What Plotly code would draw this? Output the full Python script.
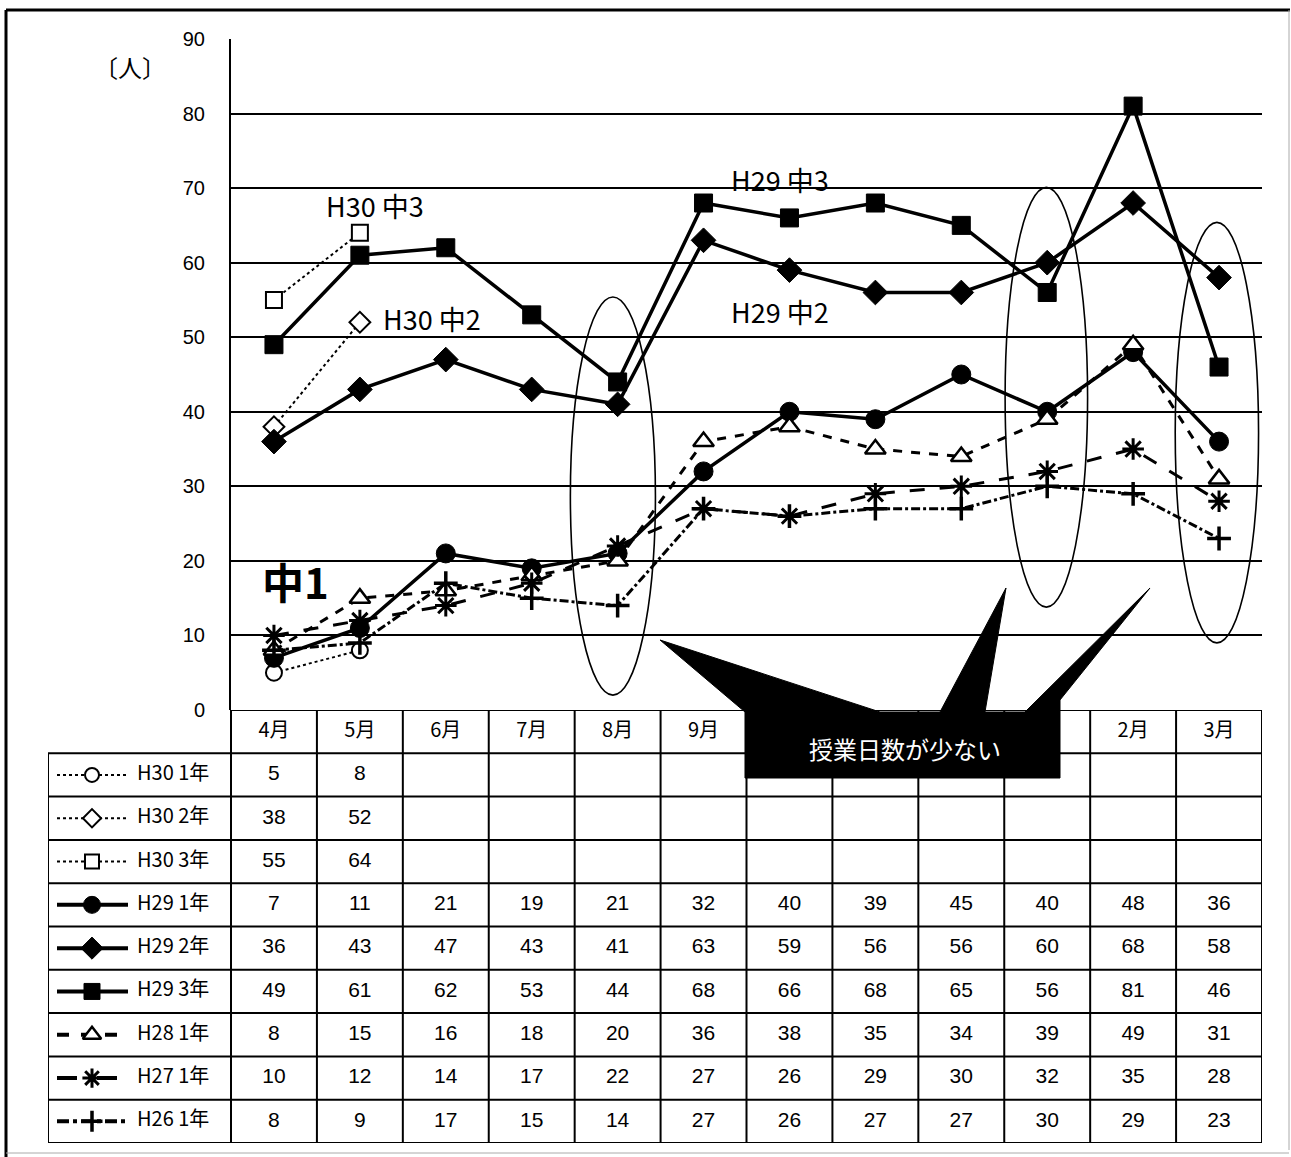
import plotly.graph_objects as go

# ---- data -------------------------------------------------------------
months = ["4月", "5月", "6月", "7月", "8月", "9月", "10月", "11月", "12月", "1月", "2月", "3月"]

h30_1 = [5, 8]
h30_2 = [38, 52]
h30_3 = [55, 64]
h29_1 = [7, 11, 21, 19, 21, 32, 40, 39, 45, 40, 48, 36]
h29_2 = [36, 43, 47, 43, 41, 63, 59, 56, 56, 60, 68, 58]
h29_3 = [49, 61, 62, 53, 44, 68, 66, 68, 65, 56, 81, 46]
h28_1 = [8, 15, 16, 18, 20, 36, 38, 35, 34, 39, 49, 31]
h27_1 = [10, 12, 14, 17, 22, 27, 26, 29, 30, 32, 35, 28]
h26_1 = [8, 9, 17, 15, 14, 27, 26, 27, 27, 30, 29, 23]

series_names = ["H30 1年", "H30 2年", "H30 3年", "H29 1年", "H29 2年",
                "H29 3年", "H28 1年", "H27 1年", "H26 1年"]
series_values = [h30_1, h30_2, h30_3, h29_1, h29_2, h29_3, h28_1, h27_1, h26_1]

# ---- styling ----------------------------------------------------------
W, H = 1291, 1157
FONT = "Liberation Sans, Arial, sans-serif"
JFONT = "Noto Sans CJK JP, sans-serif"

# hollow markers are drawn with a white fill so the line stops at their edge
styles = [
    dict(dash="dot", width=2, symbol="circle", fill="white", size=16, mlw=2),
    dict(dash="dot", width=2, symbol="diamond", fill="white", size=16, mlw=2),
    dict(dash="dot", width=2, symbol="square", fill="white", size=16, mlw=2),
    dict(dash="solid", width=3.5, symbol="circle", fill="black", size=19, mlw=1),
    dict(dash="solid", width=3.5, symbol="diamond", fill="black", size=19, mlw=1),
    dict(dash="solid", width=3.5, symbol="square", fill="black", size=18, mlw=1),
    dict(dash="dash", width=3, symbol="triangle-up", fill="white", size=18, mlw=2.5),
    dict(dash="longdash", width=3, symbol="asterisk-open", fill="black", size=18, mlw=3),
    dict(dash="dashdot", width=3, symbol="cross-thin-open", fill="black", size=17, mlw=3.5),
]


def px(x):
    return x / W


def py(y):
    return 1 - y / H


# plot area and table bounds (pixels)
PL, PR, PT, PB = 231, 1262, 39, 710
TL, TB = 48, 1143
unit = (PR - PL) / 12.0
leg_left = -0.5 - (PL - TL) / unit

fig = go.Figure()

# ---- lines ------------------------------------------------------------
for name, vals, st in zip(series_names, series_values, styles):
    fig.add_trace(go.Scatter(
        x=list(range(len(vals))), y=vals, name=name, mode="lines+markers",
        line=dict(color="black", width=st["width"], dash=st["dash"]),
        marker=dict(symbol=st["symbol"], size=st["size"], color=st["fill"],
                    line=dict(color="black", width=st["mlw"])),
        showlegend=False, hoverinfo="skip",
        xaxis="x", yaxis="y",
    ))

# ---- data table -------------------------------------------------------
n_rows = len(series_names)
# header row
fig.add_trace(go.Scatter(
    x=list(range(12)), y=[0] * 12, text=months, mode="text",
    textfont=dict(family=JFONT, size=20, color="black"),
    xaxis="x3", yaxis="y3", showlegend=False, hoverinfo="skip"))
for r, vals in enumerate(series_values, start=1):
    fig.add_trace(go.Scatter(
        x=list(range(len(vals))), y=[r] * len(vals),
        text=[str(v) for v in vals], mode="text",
        textfont=dict(family=FONT, size=21, color="black"),
        xaxis="x3", yaxis="y3", showlegend=False, hoverinfo="skip"))


# legend samples in the left column
def ux(p):
    return (p - PL) / unit - 0.5


for r, (name, st) in enumerate(zip(series_names, styles), start=1):
    lw = 2 if st["dash"] == "dot" else 4
    fig.add_trace(go.Scatter(
        x=[ux(57), ux(92), ux(128)], y=[r, r, r], mode="lines",
        line=dict(color="black", width=lw, dash=st["dash"]),
        xaxis="x3", yaxis="y3", showlegend=False, hoverinfo="skip"))
    fig.add_trace(go.Scatter(
        x=[ux(92)], y=[r], mode="markers",
        marker=dict(symbol=st["symbol"], size=st["size"] - 2, color=st["fill"],
                    line=dict(color="black", width=st["mlw"])),
        xaxis="x3", yaxis="y3", showlegend=False, hoverinfo="skip"))
fig.add_trace(go.Scatter(
    x=[ux(137)] * n_rows, y=list(range(1, n_rows + 1)), text=series_names,
    mode="text", textposition="middle right",
    textfont=dict(family=JFONT, size=20, color="black"),
    xaxis="x3", yaxis="y3", showlegend=False, hoverinfo="skip"))

shapes = []
# table grid
for r in range(n_rows + 2):
    yv = r - 0.5
    x0 = -0.5 if r == 0 else leg_left
    shapes.append(dict(type="line", xref="x3", yref="y3", x0=x0, x1=11.5,
                       y0=yv, y1=yv, line=dict(color="black", width=2)))
for c in range(13):
    xv = c - 0.5
    shapes.append(dict(type="line", xref="x3", yref="y3", x0=xv, x1=xv,
                       y0=-0.5, y1=n_rows + 0.5, line=dict(color="black", width=2)))
shapes.append(dict(type="line", xref="x3", yref="y3", x0=leg_left, x1=leg_left,
                   y0=0.5, y1=n_rows + 0.5, line=dict(color="black", width=2)))

# highlight ellipses around short months
for xc0, xc1, y0, y1 in [(3.45, 4.44, 2, 55.4), (8.51, 9.47, 13.8, 70.1), (10.49, 11.46, 9.0, 65.4)]:
    shapes.append(dict(type="circle", xref="x", yref="y", x0=xc0, x1=xc1, y0=y0, y1=y1,
                       line=dict(color="black", width=1.6), layer="above"))


# callout box with three pointers
def pt(x, y):
    return f"{px(x):.5f},{py(y):.5f}"


callout = ("M" + pt(745, 712) + " L" + pt(660, 640) + " L" + pt(880, 712)
           + " L" + pt(940, 712) + " L" + pt(1006, 588) + " L" + pt(985, 712)
           + " L" + pt(1025, 712) + " L" + pt(1150, 588) + " L" + pt(1060, 700)
           + " L" + pt(1060, 778) + " L" + pt(745, 778) + " Z")
shapes.append(dict(type="path", xref="paper", yref="paper", path=callout,
                   fillcolor="black", line=dict(color="black", width=1), layer="above"))

# outer frame
shapes += [
    dict(type="line", xref="paper", yref="paper", x0=px(6), x1=px(1290), y0=py(10), y1=py(10),
         line=dict(color="black", width=3)),
    dict(type="line", xref="paper", yref="paper", x0=px(6), x1=px(6), y0=py(10), y1=py(1157),
         line=dict(color="black", width=3)),
    dict(type="line", xref="paper", yref="paper", x0=px(1289), x1=px(1289), y0=py(10), y1=py(1150),
         line=dict(color="#aaaaaa", width=1)),
    dict(type="line", xref="paper", yref="paper", x0=px(6), x1=px(1289), y0=py(1153), y1=py(1153),
         line=dict(color="#aaaaaa", width=1)),
]


def label(text, x, y, size, color="black", family=JFONT):
    return dict(text=text, x=px(x), y=py(y), xref="paper", yref="paper", showarrow=False,
                xanchor="center", yanchor="middle",
                font=dict(family=family, size=size, color=color))


annotations = [
    label("〔人〕", 130, 66, 24),
    label("H30 中3", 375, 206, 27),
    label("H30 中2", 432, 318, 27),
    label("H29 中3", 780, 179, 27),
    label("H29 中2", 780, 311, 27),
    label("<b>中1</b>", 295, 580, 42),
    label("授業日数が少ない", 905, 748, 24, color="white"),
]

fig.update_layout(
    width=W, height=H, margin=dict(l=0, r=0, t=0, b=0, autoexpand=False),
    paper_bgcolor="white", plot_bgcolor="white",
    shapes=shapes, annotations=annotations,
    xaxis=dict(domain=[px(PL), px(PR)], range=[-0.5, 11.5], showticklabels=False,
               showgrid=False, zeroline=False, showline=False, fixedrange=True),
    yaxis=dict(domain=[py(PB), py(PT)], range=[0, 90], dtick=10, tick0=0,
               showgrid=True, gridcolor="black", gridwidth=1.5, zeroline=False,
               showline=True, linecolor="black", linewidth=2,
               ticks="", ticklabelstandoff=20,
               tickfont=dict(family=FONT, size=20, color="black"), fixedrange=True),
    xaxis3=dict(domain=[px(TL), px(PR)], range=[leg_left, 11.5], visible=False,
                anchor="y3", fixedrange=True),
    yaxis3=dict(domain=[py(TB), py(PB)], range=[n_rows + 0.5, -0.5], visible=False,
                anchor="x3", fixedrange=True),
)

fig.write_html("out.html")
